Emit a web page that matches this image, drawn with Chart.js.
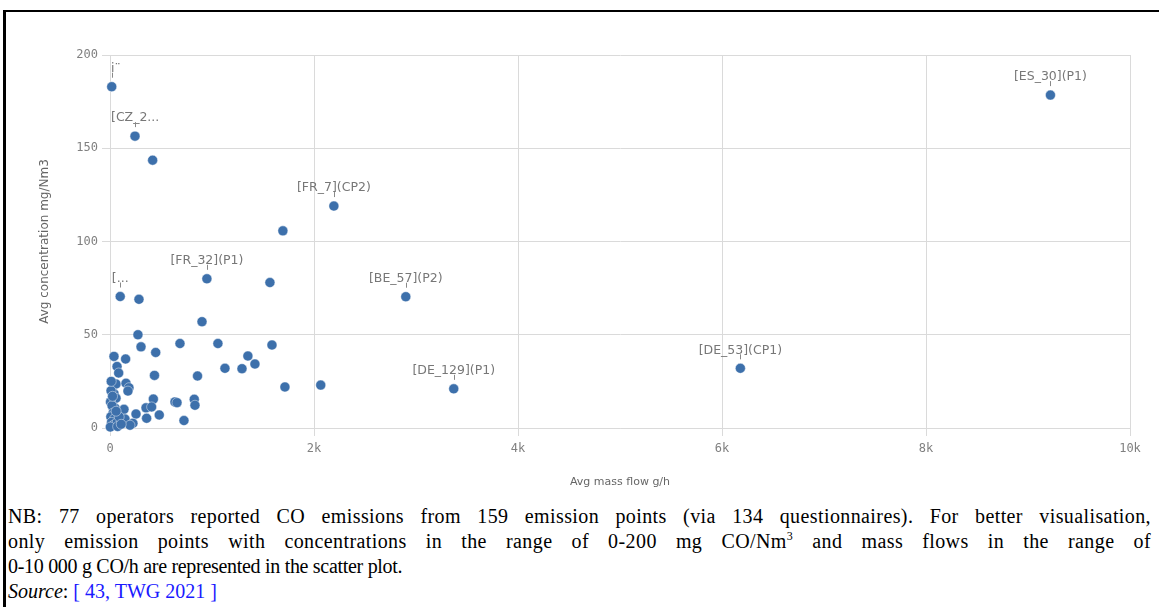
<!DOCTYPE html>
<html>
<head>
<meta charset="utf-8">
<script src="https://cdn.jsdelivr.net/npm/chart.js@4.4.1/dist/chart.umd.min.js"></script>
<style>
  body { margin: 0; background: #fff; width: 1159px; height: 607px; overflow: hidden; position: relative; }
  #frame { position: absolute; left: 3px; top: 10px; width: 1156px; height: 600px; border-top: 2px solid #000; border-left: 3px solid #000; }
  #wrap { position: absolute; left: 0; top: 0; width: 1159px; height: 500px; }
  #note {
    position: absolute; left: 8px; top: 504px; width: 1143px;
    font-family: "Liberation Serif", "Times New Roman", serif; font-size: 20px; line-height: 25px;
    color: #000;
  }
  #note .j { letter-spacing: 0.4px; text-align: justify; text-align-last: justify; white-space: nowrap; }
  #note .t { letter-spacing: -0.3px; }
  #note sup { font-size: 12px; line-height: 0; }
  #note a { color: #1a1aff; text-decoration: none; }
</style>
</head>
<body>
<div id="frame"></div>
<div id="wrap"><canvas id="myChart"></canvas></div>
<div id="note">
  <div class="j">NB: 77 operators reported CO emissions from 159 emission points (via 134 questionnaires). For better visualisation,</div>
  <div class="j">only emission points with concentrations in the range of 0-200&nbsp;mg CO/Nm<sup>3</sup> and mass flows in the range of</div>
  <div class="t">0-10&nbsp;000 g CO/h are represented in the scatter plot.</div>
  <div><i>Source</i>: <a>[ 43, TWG 2021 ]</a></div>
</div>
<script>
// values
const massFlow = [
  9220, 6180, 3370, 2900, 2195, 950, 100, 17, 245,
  418, 1695, 1568, 284, 902, 274, 304, 448, 686, 1058,
  1588, 39, 153, 1352, 1421, 1127, 1294, 69, 85, 436,
  858, 59, 157, 186, 176, 39, 1715, 2066, 425, 826,
  833, 637, 657, 353, 408, 137, 483, 255, 359, 147,
  725, 225, 196, 59, 49, 10, 5, 20, 30, 8,
  45, 15, 35, 70, 3, 90, 60, 25, 75, 110, 12,
];
const concentration = [
  178.5, 32, 21, 70.4, 119, 80, 70.5, 183, 156.5,
  143.6, 105.7, 78, 69, 57, 50, 43.5, 40.5, 45.3, 45.3,
  44.5, 38.4, 37, 38.6, 34.3, 32, 31.8, 33, 29.5, 28.2,
  27.9, 23.6, 24, 21.6, 19.8, 18.5, 22, 23, 15.5, 15.4,
  12.2, 14, 13.6, 10.8, 11.3, 10, 7, 7.5, 5.2, 4.8,
  4, 2.5, 1.5, 16, 10.7, 20, 14, 12, 8, 6,
  5, 3, 1.5, 3, 0.5, 6, 9, 17, 0.8, 2, 25,
];
const pointNames = [
  "[ES_30](P1)", "[DE_53](CP1)", "[DE_129](P1)", "[BE_57](P2)", "[FR_7](CP2)", "[FR_32](P1)", "[...", "i\u00a8", "[CZ_2...",
];
const xTicks = [0, 2000, 4000, 6000, 8000, 10000];
const yTicks = [0, 50, 100, 150, 200];

const points = massFlow.map((x, i) => ({ x: x, y: concentration[i] }));

const gridColor = "#dadada";
const tickFont = { family: "DejaVu Sans Mono", size: 12 };

// draws the small labels above the named points
const pointLabels = {
  id: "pointLabels",
  afterDatasetsDraw(chart) {
    const ctx = chart.ctx;
    const meta = chart.getDatasetMeta(0);
    const area = chart.chartArea;
    ctx.save();
    ctx.font = "12.5px 'DejaVu Sans'";
    ctx.fillStyle = "#777";
    ctx.strokeStyle = "#888";
    ctx.lineWidth = 1;
    ctx.textAlign = "center";
    ctx.textBaseline = "middle";
    pointNames.forEach((name, i) => {
      const el = meta.data[i];
      if (!el || !name) return;
      const w = ctx.measureText(name).width;
      let tx = Math.max(el.x, area.left + w / 2 + 1);
      ctx.fillText(name, tx, el.y - 18);
      ctx.beginPath();
      ctx.moveTo(Math.round(el.x) + 0.5, el.y - 14);
      ctx.lineTo(Math.round(el.x) + 0.5, el.y - 9);
      ctx.stroke();
    });
    ctx.restore();
  },
};

const config = {
  type: "scatter",
  data: {
    datasets: [
      {
        label: "Emission points",
        data: points,
        backgroundColor: "#3d70ab",
        borderColor: "rgba(255,255,255,0.55)",
        borderWidth: 0.8,
        pointRadius: 5,
        pointHoverRadius: 5,
        clip: false,
      },
    ],
  },
  options: {
    responsive: true,
    maintainAspectRatio: false,
    animation: false,
    layout: { padding: { top: 55, right: 29, left: 0, bottom: 10 } },
    plugins: {
      legend: { display: false },
      tooltip: { enabled: false },
    },
    scales: {
      x: {
        type: "linear",
        min: 0,
        max: 10000,
        afterBuildTicks: (scale) => { scale.ticks = xTicks.map((v) => ({ value: v })); },
        afterFit: (scale) => { scale.height = 62; },
        grid: { color: gridColor, tickLength: 8, tickColor: gridColor },
        border: { color: gridColor },
        ticks: {
          color: "#808080",
          font: tickFont,
          padding: 6,
          maxRotation: 0,
          callback: (v) => (v == 0 ? "0" : v / 1000 + "k"),
        },
        title: {
          display: true,
          text: "Avg mass flow g/h",
          color: "#666",
          font: { family: "DejaVu Sans", size: 11 },
          padding: { top: 0, bottom: 1 },
        },
      },
      y: {
        type: "linear",
        min: 0,
        max: 200,
        afterBuildTicks: (scale) => { scale.ticks = yTicks.map((v) => ({ value: v })); },
        afterFit: (scale) => { scale.width = 110; },
        grid: { color: gridColor, tickLength: 8, tickColor: gridColor },
        border: { color: gridColor },
        ticks: { color: "#808080", font: tickFont, padding: 4 },
        title: {
          display: true,
          text: "Avg concentration mg/Nm3",
          color: "#666",
          font: { family: "DejaVu Sans", size: 12 },
          padding: { top: 38, bottom: 0 },
        },
      },
    },
  },
  plugins: [pointLabels],
};

myChart = new Chart("myChart", config);
</script>
</body>
</html>
